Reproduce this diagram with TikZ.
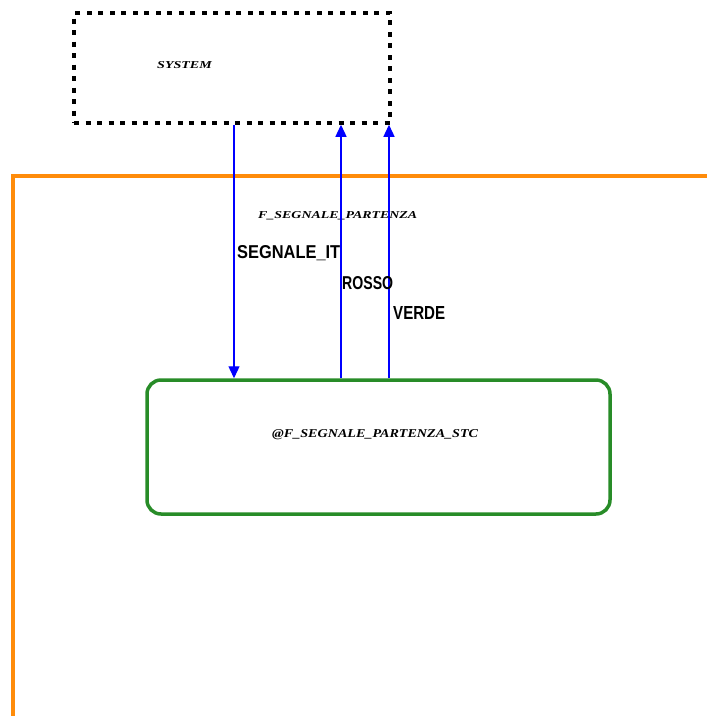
\documentclass[tikz,border=0pt]{standalone}
\usepackage{fontspec}
\setmainfont{Liberation Serif}
\newfontfamily\lblfont{Liberation Sans}
\usetikzlibrary{arrows.meta}
\definecolor{frameorange}{RGB}{255,140,10}
\definecolor{stcgreen}{RGB}{40,140,40}
\definecolor{flowblue}{RGB}{0,0,255}
\tikzset{
  sysbox/.style={draw=black, line width=3.5pt, dash pattern=on 5pt off 6.5pt, minimum width=316pt, minimum height=110pt, inner sep=0pt},
  stcbox/.style={draw=stcgreen, line width=3.5pt, rounded corners=14pt, minimum width=463pt, minimum height=134pt, inner sep=0pt},
  flow/.style={color=flowblue, line width=1.3pt, -{Triangle[length=12pt,width=11pt]}},
  itlbl/.style={inner sep=0pt, anchor=base west},
  siglbl/.style={inner sep=0pt, anchor=base west}
}
\begin{document}
\begin{tikzpicture}[x=1pt,y=-1pt]
\useasboundingbox (0,0) rectangle (707,716);
% orange frame
\draw[frameorange, line width=4pt, line join=miter] (13,716) -- (13,176) -- (707,176);
% system
\node[sysbox] (sys) at (232,68) {};
\node[itlbl] (syslbl) at (157,68) {\resizebox{55pt}{7pt}{\textbf{\textit{SYSTEM}}}};
% stc
\node[stcbox] (stc) at (378.5,447) {};
\node[itlbl] (stclbl) at (272,437) {\resizebox{206pt}{8pt}{\textbf{\textit{@F\_SEGNALE\_PARTENZA\_STC}}}};
% frame label
\node[itlbl] (flbl) at (258,218) {\resizebox{159pt}{7pt}{\textbf{\textit{F\_SEGNALE\_PARTENZA}}}};
% flows
\draw[flow] (sys.south -| 234,0) -- (stc.north -| 234,0);
\draw[flow] (stc.north -| 341,0) -- (sys.south -| 341,0);
\draw[flow] (stc.north -| 389,0) -- (sys.south -| 389,0);
% flow labels
\node[siglbl] (l1) at (237,258) {\resizebox{103pt}{13pt}{\lblfont\bfseries SEGNALE\_IT}};
\node[siglbl] (l2) at (342,289) {\resizebox{51pt}{13pt}{\lblfont\bfseries ROSSO}};
\node[siglbl] (l3) at (393,319) {\resizebox{52pt}{13pt}{\lblfont\bfseries VERDE}};
\end{tikzpicture}
\end{document}
